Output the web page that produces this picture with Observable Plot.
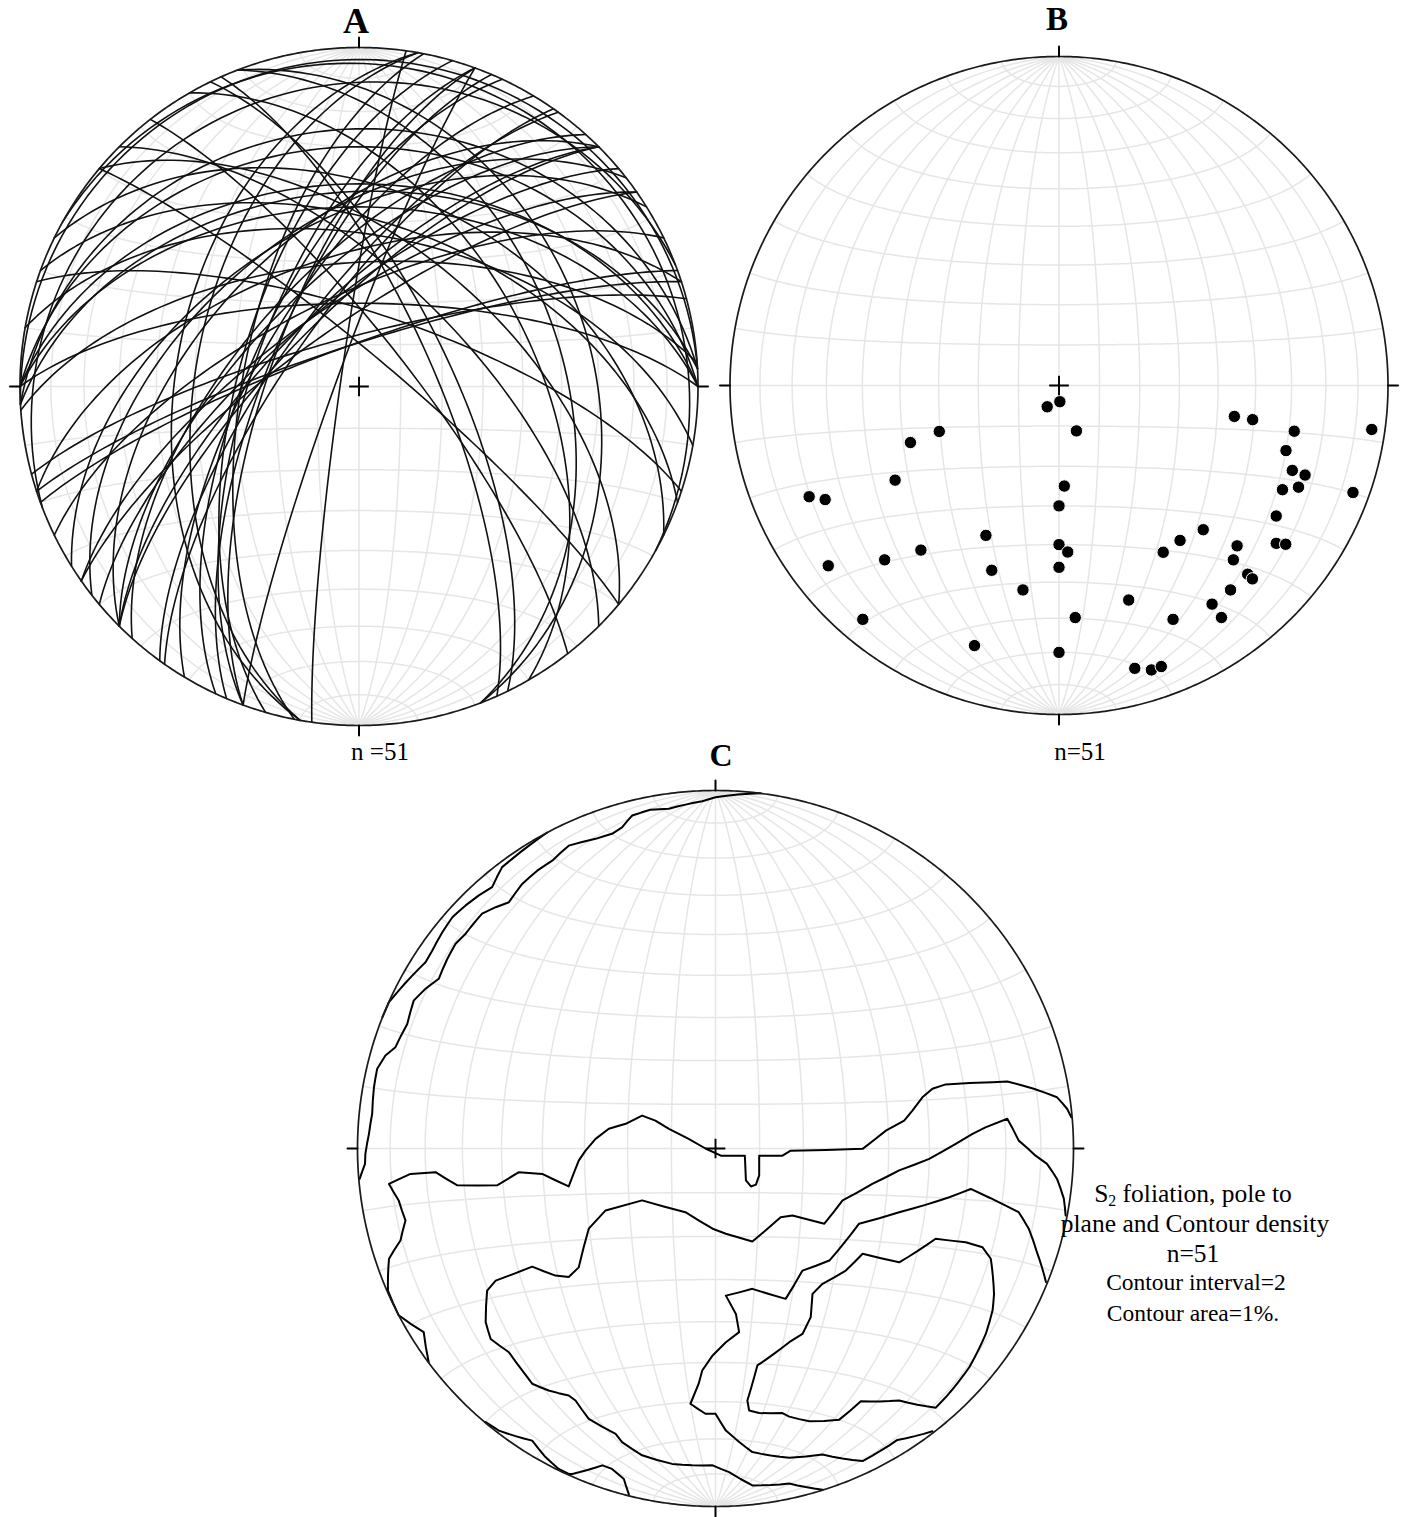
<!DOCTYPE html>
<html><head><meta charset="utf-8">
<script src="https://cdn.jsdelivr.net/npm/d3@7"></script>
<script src="https://cdn.jsdelivr.net/npm/@observablehq/plot@0.6"></script>
<style>
body{margin:0;background:#fff;}
#page{position:relative;width:1406px;height:1517px;overflow:hidden;font-family:"Liberation Serif","Times New Roman",serif;color:#000;background:#fff;}
.panel{position:absolute;}
.panel svg{background:transparent !important;overflow:visible;}
.lbl{position:absolute;white-space:nowrap;line-height:1;transform:translateX(-50%);}
.b{font-weight:bold;}
</style></head><body><div id="page"></div>
<script>
// ---------- DATA ----------
// Poles to S2 foliation planes (trend, plunge in degrees), lower hemisphere
const poleTrend = [209,177,249,249,240,246,244,177,180,206,220,225,232,180,177,180,200,190,220,198,180,
  159,176,100,100,101,98,106,110,110,115,113,110,121,135,142,148,132,135,126,125,135,135,140,162,145,145,154,165,162,160];
const polePlunge = [84,86,58,50,42,18,22,65,60,48,35,26,12,50,48,44,40,37,8,18,20,
  78,30,45,40,28,4.5,29,25.5,21.5,26,22,5.5,24,38,40,40,28,26,19.5,17,20,18,20,32,20,15,22,12,10,10];

// Density contours (net coordinates, % of primitive radius: east, north)
const contourNWOuter = [[-47.0,88.3],[-52.1,84.6],[-56.8,80.9],[-59.6,78.6],[-62.4,73.0],[-66.1,70.7],[-69.8,67.9],[-73.5,64.6],[-76.3,60.4],[-79.1,55.3],[-81.0,52.0],[-84.7,48.3],[-88.5,44.1],[-91.2,40.9],[-93.1,36.7]];
const contourNWInner = [[12.6,99.2],[0,98.1],[-3.7,97.0],[-13.0,94.9],[-18.2,94.6],[-23.3,93.0],[-26.1,89.7],[-28.9,87.9],[-33.5,86.5],[-41.0,84.6],[-45.6,80.4],[-49.8,77.6],[-54.0,73.9],[-57.7,68.8],[-61.4,67.4],[-65.2,65.6],[-68.4,61.8],[-69.8,60.0],[-72.6,57.2],[-74.9,53.0],[-77.3,47.4],[-81.0,44.6],[-84.3,41.3],[-86.1,34.8],[-89.4,28.3],[-92.2,26.0],[-94.5,22.3],[-95.4,17.1],[-95.9,9.7],[-96.8,4.1],[-97.8,-1.5],[-97.9,-4.3],[-99.4,-8.5]];
const contourLevel1 = [[99.4,8.7],[98.2,11.1],[95.4,14.3],[88.9,16.7],[81.5,18.7],[77.4,18.5],[64.3,17.9],[60.6,16.7],[57.8,14.3],[55.0,10.6],[52.7,7.8],[47.6,5.0],[41.1,-0.1],[30.8,-0.4],[21.0,-0.6],[18.7,-2.0],[12.2,-2.0],[12.2,-7.5],[11.3,-10.1],[9.9,-10.6],[8.5,-8.9],[8.2,-2.0],[1.5,-2.0],[-2.8,0],[-7.5,2.7],[-13.0,5.5],[-16.8,7.8],[-20.5,9.2],[-25.1,6.9],[-29.8,5.5],[-33.5,2.7],[-36.3,-0.6],[-38.2,-3.4],[-41.0,-10.6],[-48.4,-7.1],[-54.9,-6.6],[-61.0,-10.3],[-72.1,-10.3],[-78.2,-6.6],[-85.2,-7.1],[-91.2,-9.9],[-88.5,-14.5],[-86.6,-20.1],[-88.0,-25.7],[-91.2,-30.8],[-91.5,-39.7],[-88.5,-46.6],[-81.5,-51.3],[-80.1,-59.7]];
const contourLevel1South = [[-64.2,-76.4],[-60.5,-78.8],[-51.2,-81.6],[-47.5,-86.2],[-43.8,-89.5],[-41.0,-90.9],[-40.0,-90.9],[-31.6,-88.5],[-28.9,-89.5],[-25.6,-92.3],[-24.2,-96.6]];
const contourLevel2 = [[97.8,-18.7],[97.3,-14.0],[95.4,-8.5],[92.6,-4.3],[89.4,-2.0],[84.7,2.2],[81.5,8.3],[75.4,5.9],[71.8,4.1],[67.1,1.3],[59.7,-2.9],[51.3,-6.1],[43.8,-9.9],[35.5,-14.5],[30.4,-21.0],[21.5,-18.7],[18.2,-19.2],[10.3,-26.0],[2.9,-23.8],[-0.8,-22.4],[-8.4,-17.8],[-20.5,-14.5],[-30.7,-17.3],[-35.4,-22.4],[-38.2,-33.2],[-41.0,-35.9],[-44.7,-35.5],[-51.2,-33.0],[-61.4,-36.9],[-63.8,-39.7],[-64.2,-48.5],[-62.8,-53.2],[-57.7,-56.9],[-54.0,-62.0],[-51.2,-65.7],[-46.6,-67.6],[-41.0,-69.0],[-39.1,-70.4],[-35.4,-75.5],[-27.9,-79.7],[-26.1,-82.0],[-20.5,-85.7],[-12.1,-88.1],[-6.5,-88.5],[-0.8,-88.5],[3.8,-90.4],[10.3,-94.1],[20.6,-93.6],[29.9,-95.3]];
const contourLevel3 = [[92.3,-37.3],[89.8,-29.0],[87.5,-22.4],[84.7,-17.8],[81.9,-16.4],[71.3,-11.3],[65.3,-13.6],[51.3,-17.8],[40.1,-21.0],[31.8,-31.3],[24.3,-34.1],[19.6,-42.0],[10.3,-39.2],[2.9,-41.1],[5.7,-46.2],[6.6,-51.3],[2.9,-54.1],[-0.8,-57.8],[-3.7,-62.0],[-4.7,-65.7],[-7.0,-71.3],[-2.8,-74.1],[0,-74.1],[2.9,-78.8],[10.3,-84.8],[20.6,-86.4],[29.9,-85.5],[41.1,-87.3],[50.8,-81.4],[60.6,-79.0]];
const contourLevel4 = [[27.1,-40.6],[29.9,-37.8],[36.4,-34.1],[41.1,-29.4],[51.3,-31.8],[61.5,-25.2],[69.9,-26.2],[74.6,-27.6],[76.9,-30.8],[77.8,-40.6],[77.4,-45.2],[75.5,-51.8],[70.9,-61.1],[64.3,-69.5],[61.5,-72.4],[51.3,-70.4],[40.6,-70.6],[34.5,-75.8],[26.2,-76.2],[20.6,-74.9],[18.7,-73.9],[12.2,-73.9],[9.4,-73.2],[8.9,-70.4],[10.8,-63.9],[11.7,-60.6],[20.6,-54.1],[24.3,-51.8],[26.6,-47.1],[27.1,-40.6]];
const contours = [contourNWOuter, contourNWInner, contourLevel1, contourLevel1South, contourLevel2, contourLevel3, contourLevel4];

const nLabel = "n=51";
const captionLines = ["S<span class='sub'>2</span> foliation, pole to", "plane and Contour density", "n=51", "Contour interval=2", "Contour area=1%."];

// ---------- GEOMETRY HELPERS ----------
const rad = Math.PI / 180, deg = 180 / Math.PI;
function dirVec(t, p) { t *= rad; p *= rad; return [Math.cos(p) * Math.sin(t), Math.cos(p) * Math.cos(t), Math.sin(p)]; } // E,N,Down
function toLonLat(v) {
  let [e, n, d] = v;
  if (d < -1e-9) { e = -e; n = -n; d = -d; }
  const L = Math.hypot(e, n, d);
  return [Math.atan2(e, Math.max(d, 0)) * deg, Math.asin(Math.max(-1, Math.min(1, n / L))) * deg];
}
function netToLonLat([u, v]) {
  const x = u / 100, y = v / 100;
  const r = Math.min(1, Math.hypot(x, y));
  const c = 2 * Math.asin(r / Math.SQRT2);
  const t = Math.atan2(x, y);
  return toLonLat([Math.sin(c) * Math.sin(t), Math.sin(c) * Math.cos(t), Math.cos(c)]);
}

const poleRows = poleTrend.map((t, i) => { const [lon, lat] = toLonLat(dirVec(t, polePlunge[i])); return {lon, lat}; });

const gcRows = [];
poleTrend.forEach((t, i) => {
  const n = dirVec(t, polePlunge[i]);
  const h = Math.hypot(n[0], n[1]);
  const s = [n[1] / h, -n[0] / h, 0];
  let dd = [n[1] * s[2] - n[2] * s[1], n[2] * s[0] - n[0] * s[2], n[0] * s[1] - n[1] * s[0]];
  if (dd[2] < 0) dd = dd.map(x => -x);
  for (let a = 0; a <= 180; a += 2) {
    const c = Math.cos(a * rad), sn = Math.sin(a * rad);
    const [lon, lat] = toLonLat([c * s[0] + sn * dd[0], c * s[1] + sn * dd[1], c * s[2] + sn * dd[2]]);
    gcRows.push({plane: i, lon, lat});
  }
});

const contourRows = contours.flatMap((pts, k) => pts.map(p => { const [lon, lat] = netToLonLat(p); return {id: k, lon, lat}; }));

function tickRows(R, len) {
  const c = 2 * Math.asin((1 + len / R) / Math.SQRT2) * deg;
  return [
    {id: 0, lon: 0, lat: 90}, {id: 0, lon: 180, lat: 180 - c},
    {id: 1, lon: 0, lat: -90}, {id: 1, lon: 180, lat: -(180 - c)},
    {id: 2, lon: 90, lat: 0}, {id: 2, lon: c, lat: 0},
    {id: 3, lon: -90, lat: 0}, {id: 3, lon: -c, lat: 0}
  ];
}
function stereo(cx, cy, R) {
  return d3.geoAzimuthalEqualArea().rotate([0, 0, 0]).scale(R / Math.SQRT2).translate([cx, cy]).clipAngle(97).precision(0.1);
}
const graticule = d3.geoGraticule().extent([[-90, -90], [90, 90]]).step([10, 10]).precision(1)();
const primitive = {type: "LineString", coordinates: d3.geoCircle().center([0, 0]).radius(90).precision(0.5)().coordinates[0]};

function baseMarks(R) {
  return [
    Plot.geo([graticule], {stroke: "#e6e6e6", strokeWidth: 1.5, fill: "none"}),
  ];
}
function frameMarks(R) {
  return [
    Plot.geo([primitive], {stroke: "#1a1a1a", strokeWidth: 1.7, fill: "none"}),
    Plot.line(tickRows(R, 10), {x: "lon", y: "lat", z: "id", stroke: "#000", strokeWidth: 2}),
    Plot.dot([{lon: 0, lat: 0}], {x: "lon", y: "lat", symbol: "plus", r: 6.4, stroke: "#000", strokeWidth: 1.9})
  ];
}

const page = document.getElementById("page");
function addPanel(left, top, w, h, cx, cy, R, marks) {
  const div = document.createElement("div");
  div.className = "panel";
  div.style.left = left + "px"; div.style.top = top + "px";
  const svg = Plot.plot({
    width: w, height: h, margin: 0,
    projection: stereo(cx, cy, R),
    style: {background: "transparent", overflow: "visible"},
    marks: [...baseMarks(R), ...marks, ...frameMarks(R)]
  });
  div.appendChild(svg);
  page.appendChild(div);
}

// Panel A: great circles
addPanel(0, 0, 715, 745, 358.5, 386, 339, [
  Plot.line(gcRows, {x: "lon", y: "lat", z: "plane", stroke: "#111", strokeWidth: 1.6})
]);
// Panel B: poles
addPanel(705, 0, 701, 745, 353.5, 385, 329, [
  Plot.dot(poleRows, {x: "lon", y: "lat", r: 6.2, fill: "#000", stroke: "#fff", strokeWidth: 1})
]);
// Panel C: contours
addPanel(340, 770, 760, 747, 375, 378, 358, [
  Plot.line(contourRows, {x: "lon", y: "lat", z: "id", stroke: "#000", strokeWidth: 2, strokeLinejoin: "round"})
]);

// ---------- TEXT ----------
function label(html, x, baseline, size, cls) {
  const d = document.createElement("div");
  d.className = "lbl" + (cls ? " " + cls : "");
  d.style.left = x + "px";
  d.style.top = (baseline - 0.8375 * size) + "px";
  d.style.fontSize = size + "px";
  d.innerHTML = html;
  page.appendChild(d);
}
label("A", 356, 33, 36, "b");
label("B", 1057, 31, 33, "b");
label("C", 721, 766, 32, "b");
label("n =51", 380, 760, 25);
label(nLabel, 1080, 760, 25);
label(captionLines[0].replace("class='sub'", "style='font-size:0.62em;position:relative;top:0.28em'"), 1193, 1202, 25.5);
label(captionLines[1], 1195, 1232, 25.5);
label(captionLines[2], 1193, 1262, 25.5);
label(captionLines[3], 1196, 1291, 23.5);
label(captionLines[4], 1193, 1322, 23.5);
</script></body></html>
